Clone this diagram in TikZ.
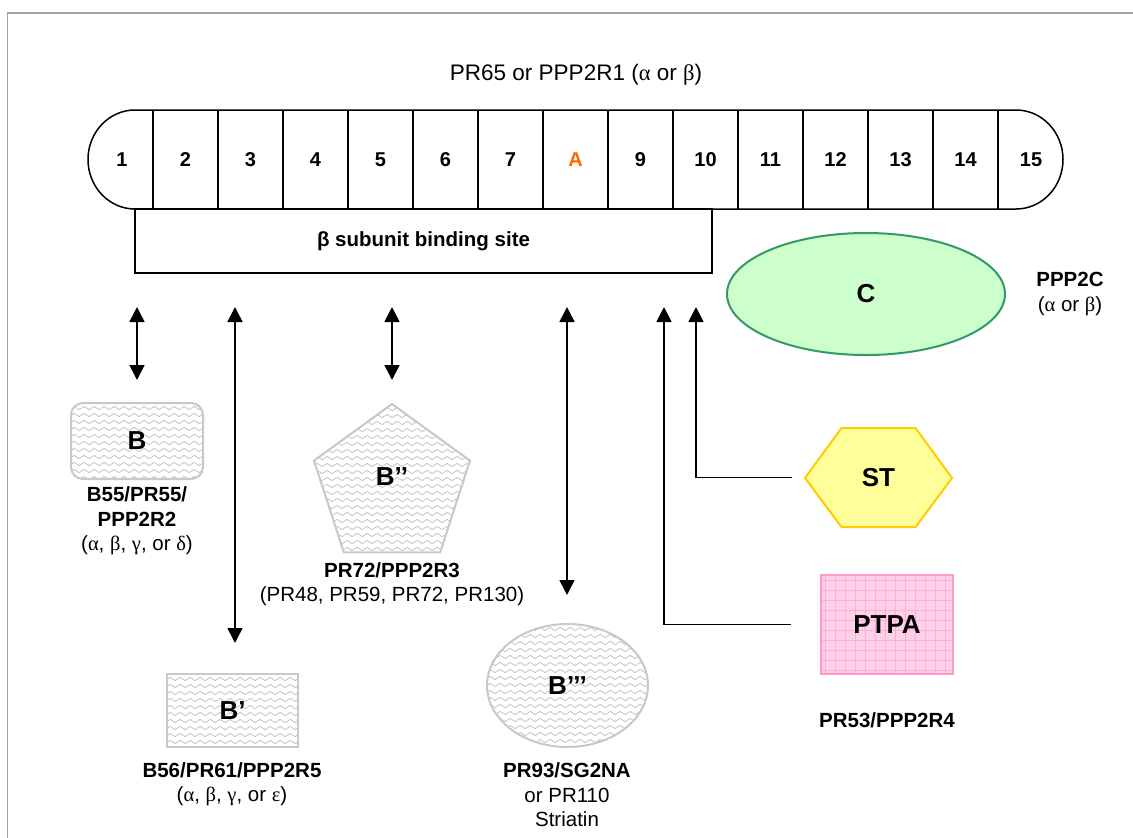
\documentclass[tikz,border=0pt]{standalone}
\usepackage{fontspec}
\setmainfont{Liberation Sans}
\newfontfamily\grkfont{Liberation Serif}
\newcommand\grkl[1]{{\grkfont #1}}
\usetikzlibrary{arrows.meta,shapes.geometric,decorations.pathmorphing,calc}
\definecolor{cfill}{HTML}{CCFFCC}
\definecolor{cline}{HTML}{339966}
\definecolor{stfill}{HTML}{FFFF99}
\definecolor{stline}{HTML}{FFCC00}
\definecolor{pfill}{HTML}{FFD1E8}
\definecolor{pline}{HTML}{FF99CC}
\definecolor{bline}{HTML}{C8C8C8}
\definecolor{wavecol}{HTML}{C4C4C4}
\definecolor{orangeA}{HTML}{FF6600}
\definecolor{framegray}{HTML}{A0A0A0}
\begin{document}
\begin{tikzpicture}[x=1pt,y=-1pt,
  wavefill/.style={path picture={
     \foreach \i in {0,...,26}{
       \draw[wavecol, sharp corners, line width=0.8pt, decorate, decoration={snake, segment length=10pt, amplitude=1.6pt}]
        ([xshift=-10pt,yshift=-\i*7pt+2pt]path picture bounding box.north west) --
        ([xshift=10pt,yshift=-\i*7pt+2pt]path picture bounding box.north east);
     }}},
  ptgrid/.style={path picture={
     \foreach \i in {0,...,16}{
       \draw[pline!80, line width=0.6pt]
         ([xshift=\i*10pt+4pt]path picture bounding box.south west) --
         ([xshift=\i*10pt+4pt]path picture bounding box.north west);
       \draw[pline!80, line width=0.6pt]
         ([yshift=\i*10pt+4pt]path picture bounding box.south west) --
         ([yshift=\i*10pt+4pt]path picture bounding box.south east);
     }}},
  barline/.style={line width=1.5pt, draw=black},
  cellnum/.style={font=\bfseries\fontsize{20}{24}\selectfont, inner sep=0},
  txt/.style={font=\fontsize{20.5}{24.5}\selectfont, align=center, inner sep=0},
  shapelbl/.style={font=\bfseries\fontsize{26}{30}\selectfont, inner sep=0},
  bshape/.style={draw=bline, line width=2pt, fill=white, wavefill, inner sep=0,
     font=\bfseries\fontsize{26}{30}\selectfont},
  arr/.style={line width=1.6pt, -{Triangle[width=15pt,length=15pt]}},
  darr/.style={line width=1.6pt, {Triangle[width=15pt,length=15pt]}-{Triangle[width=15pt,length=15pt]}}
]
\fill[white] (0,0) rectangle (1133,838);
\useasboundingbox (0,0) rectangle (1133,838);
\draw[framegray, line width=1.5pt] (7.5,838) -- (7.5,13) -- (1133,13);

% title
\node[txt, font=\fontsize{22.5}{26}\selectfont] (title) at (576,75) {PR65 or PPP2R1 (\grkl{α} or \grkl{β})};

% A subunit bar
\draw[barline] (135,110) -- (1016,110)
  arc[start angle=-90, end angle=90, x radius=47, y radius=49.5]
  -- (135,209)
  arc[start angle=90, end angle=270, x radius=47, y radius=49.5] -- cycle;
\foreach \x in {153,218,...,998} \draw[barline] (\x,110) -- (\x,209);
\node[cellnum] (c1) at (122,160) {1};
\foreach \k in {2,3,4,5,6,7,9,10,11,12,13,14}
  \node[cellnum] (c\k) at ({185.5+65*(\k-2)},160) {\k};
\node[cellnum, text=orangeA] (c8) at (575.5,160) {A};
\node[cellnum] (c15) at (1031,160) {15};

% binding site
\node[draw, line width=1.5pt, minimum width=577pt, minimum height=64pt, inner sep=0,
      font=\bfseries\fontsize{20.5}{24.5}\selectfont] (bind) at (423.5,241) {β subunit binding site};

% C subunit
\node[draw=cline, fill=cfill, line width=2pt, ellipse, minimum width=278pt, minimum height=122pt,
      inner sep=0, shapelbl] (C) at (866,294) {C};
\node[txt] (Clbl) at (1070,294) {\textbf{PPP2C}\\(\grkl{α} or \grkl{β})};

% B subunits
\node[bshape, rounded corners=12pt, minimum width=132pt, minimum height=76pt] (B) at (137,441) {B};
\node[txt] (Blbl) at (137,521) {\textbf{B55/PR55/}\\\textbf{PPP2R2}\\(\grkl{α}, \grkl{β}, \grkl{γ}, or \grkl{δ})};

\node[bshape, regular polygon, regular polygon sides=5, minimum size=164pt] (Bpp) at (392,486) {};
\node[shapelbl] (Bpptxt) at (392,477) {B’’};
\node[txt] (Bpplbl) at (392,584) {\textbf{PR72/PPP2R3}\\(PR48, PR59, PR72, PR130)};

\node[bshape, minimum width=131pt, minimum height=73pt] (Bp) at (232.5,710.5) {B’};
\node[txt] (Bplbl) at (232,784) {\textbf{B56/PR61/PPP2R5}\\(\grkl{α}, \grkl{β}, \grkl{γ}, or \grkl{ε})};

\node[bshape, ellipse, minimum width=161pt, minimum height=123pt] (Bppp) at (567.5,685.5) {B’’’};
\node[txt] (Bppplbl) at (567,795) {\textbf{PR93/SG2NA}\\or PR110\\Striatin};

% ST
\draw[draw=stline, fill=stfill, line width=2pt] (805,478) -- (841.5,428) -- (915.5,428) -- (952,478)
   -- (915.5,527) -- (841.5,527) -- cycle;
\node[shapelbl, minimum width=147pt, minimum height=99pt] (ST) at (878.5,477.5) {ST};

% PTPA
\node[draw=pline, fill=pfill, ptgrid, line width=2pt, minimum width=132pt, minimum height=99pt,
      inner sep=0, shapelbl] (PTPA) at (887,624.5) {PTPA};
\node[txt] (PTPAlbl) at (887,720) {\textbf{PR53/PPP2R4}};

% connectors
\coordinate (a1t) at (137,307); \coordinate (a1b) at (137,380);
\coordinate (a2t) at (235,307); \coordinate (a2b) at (235,643);
\coordinate (a3t) at (392,307); \coordinate (a3b) at (392,380);
\coordinate (a4t) at (567,307); \coordinate (a4b) at (567,595);
\coordinate (a5t) at (664,307);
\coordinate (a6t) at (696,307);
\draw[darr] (a1t) -- (a1b);
\draw[darr] (a2t) -- (a2b);
\draw[darr] (a3t) -- (a3b);
\draw[darr] (a4t) -- (a4b);
\draw[arr] ([xshift=-29pt]PTPA.west) -| (a5t);
\draw[arr] ([xshift=-13pt]ST.west) -| (a6t);
\end{tikzpicture}
\end{document}
